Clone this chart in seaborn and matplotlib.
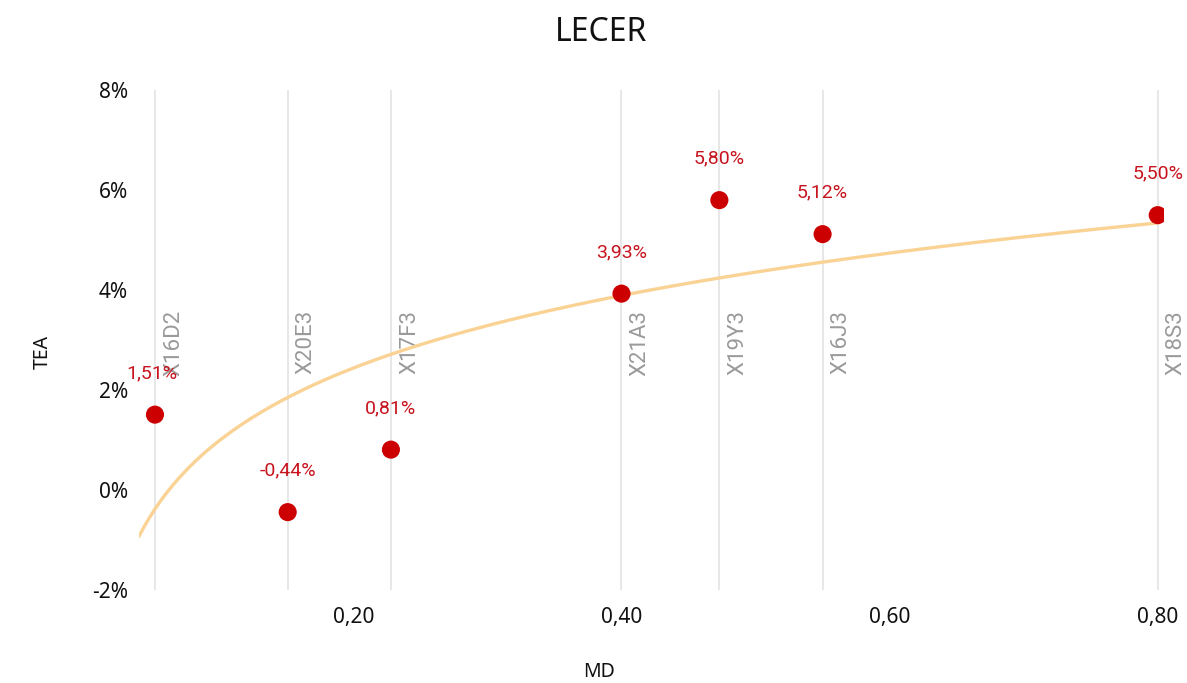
import numpy as np
import matplotlib
matplotlib.use("Agg")
import matplotlib.pyplot as plt
import pandas as pd
import seaborn as sns

# data
codes = ["X16D2", "X20E3", "X17F3", "X21A3", "X19Y3", "X16J3", "X18S3"]
md = [0.052, 0.151, 0.228, 0.400, 0.473, 0.550, 0.800]
tea = [1.51, -0.44, 0.81, 3.93, 5.80, 5.12, 5.50]

x_ticks = [0.20, 0.40, 0.60, 0.80]
y_ticks = [-2, 0, 2, 4, 6, 8]

sns.set_theme(style="white")
plt.rcParams["font.family"] = ["Noto Sans", "DejaVu Sans"]

df = pd.DataFrame({"code": codes, "MD": md, "TEA": tea})

# logarithmic trend line (least squares on ln x)
a, b = np.polyfit(np.log(df["MD"]), df["TEA"], 1)
xmin, xmax = 0.04, 0.805
trend = pd.DataFrame({"MD": np.linspace(xmin, 0.80, 200)})
trend["TEA"] = a * np.log(trend["MD"]) + b

fig = plt.figure(figsize=(11.87, 6.83), dpi=100)
ax = fig.add_axes([0.117, 0.136, 0.864, 0.732])

# vertical drop lines at each point
for xv in df["MD"]:
    ax.axvline(xv, color="#e3e3e3", lw=1.2, zorder=0)

sns.lineplot(data=trend, x="MD", y="TEA", ax=ax, color="#f9d294", lw=2.4, zorder=2)
sns.scatterplot(data=df, x="MD", y="TEA", ax=ax, color="#cc0000", s=170,
                edgecolor="none", zorder=3)

for _, r in df.iterrows():
    ax.annotate(f"{r['TEA']:.2f}%".replace(".", ","), (r["MD"], r["TEA"]),
                xytext=(-2 if r["code"] == "X16D2" else 0, 30), textcoords="offset points",
                ha="center", va="center",
                color="#c8141e", fontsize=14, family=["Roboto", "DejaVu Sans"], zorder=4)
    ax.text(r["MD"] + 0.006, 0.56, r["code"], transform=ax.get_xaxis_transform(),
            rotation=90, ha="left", va="top", color="#9a9a9a", fontsize=16,
            family=["Roboto", "DejaVu Sans"], zorder=1)

ax.set_xlim(xmin, xmax)
ax.set_ylim(-2, 8)
ax.set_xticks(x_ticks)
ax.set_xticklabels([f"{v:.2f}".replace(".", ",") for v in x_ticks])
ax.set_yticks(y_ticks)
ax.set_yticklabels([f"{v}%" for v in y_ticks])
ax.tick_params(axis="both", length=0, labelsize=15, colors="#111111")
ax.tick_params(axis="x", pad=12)
ax.tick_params(axis="y", pad=8)
ax.set_xlabel("")
ax.set_ylabel("")
for sp in ax.spines.values():
    sp.set_visible(False)

fig.text(0.036, 0.485, "TEA", rotation=90, ha="center", va="center", fontsize=14, color="#111111")
fig.text(0.505, 0.016, "MD", ha="center", va="center", fontsize=14, color="#111111")
fig.text(0.506, 0.953, "LECER", ha="center", va="center", fontsize=23, color="#111111")

fig.savefig("out.png", dpi=100)
